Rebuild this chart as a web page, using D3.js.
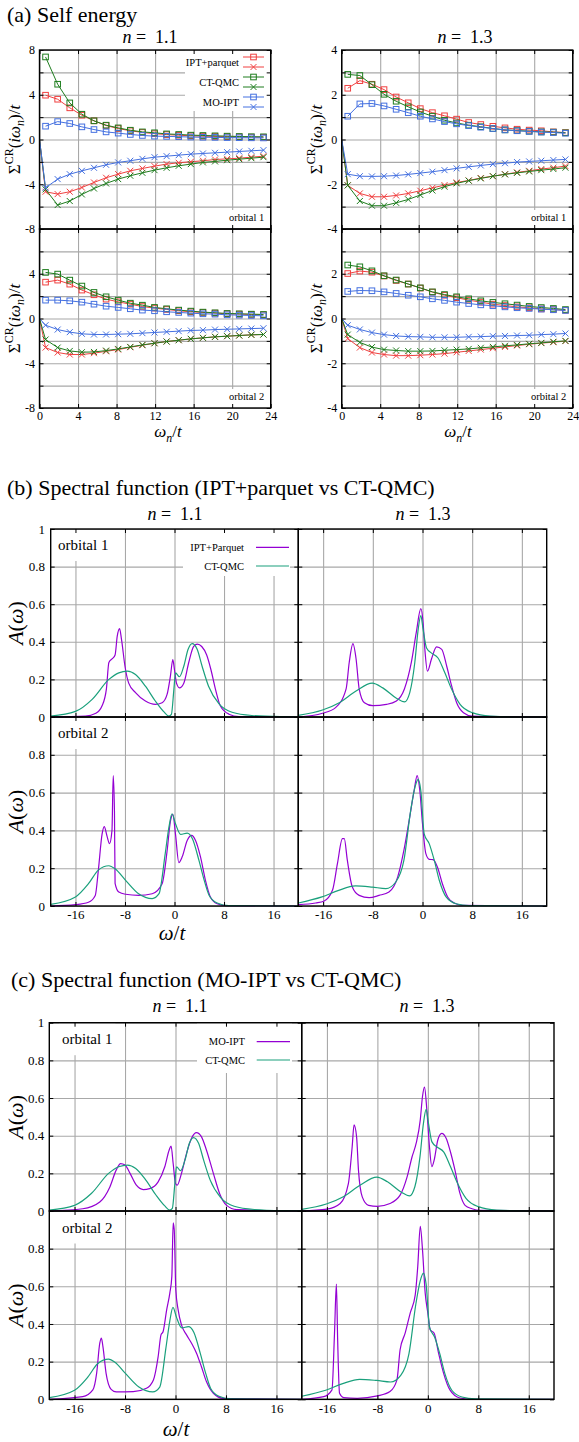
<!DOCTYPE html>
<html>
<head>
<meta charset="utf-8">
<script src="https://cdn.jsdelivr.net/npm/d3@7"></script>
<style>
  body { margin: 0; background: #fff; }
  svg, svg text { font-family: "Liberation Serif", "Times New Roman", serif; }
</style>
</head>
<body>
<svg id="fig" width="579" height="1442"></svg>
<script>
// ---------- data: self energy (Matsubara axis) ----------
const wn = [0.628, 1.885, 3.142, 4.398, 5.655, 6.912, 8.168, 9.425, 10.681, 11.938,
            13.195, 14.451, 15.708, 16.965, 18.221, 19.478, 20.735, 21.991, 23.248];

// n = 1.1, orbital 1
const iptRe_11_1 = [3.96, 3.6, 2.83, 2.17, 1.67, 1.25, 0.98, 0.78, 0.63, 0.52, 0.44, 0.38, 0.33, 0.3, 0.27, 0.25, 0.23, 0.21, 0.2];
const qmcRe_11_1 = [7.38, 4.94, 3.27, 2.26, 1.67, 1.28, 1.04, 0.83, 0.68, 0.6, 0.5, 0.45, 0.39, 0.36, 0.33, 0.3, 0.27, 0.25, 0.24];
const moRe_11_1  = [1.19, 1.6, 1.43, 1.13, 0.89, 0.68, 0.57, 0.45, 0.36, 0.3, 0.28, 0.25, 0.22, 0.2, 0.19, 0.17, 0.16, 0.15, 0.14];
const iptIm_11_1 = [-4.67, -4.88, -4.67, -4.29, -3.84, -3.42, -3.1, -2.8, -2.59, -2.38, -2.2, -2.08, -1.99, -1.9, -1.79, -1.73, -1.67, -1.58, -1.49];
const qmcIm_11_1 = [-4.46, -5.86, -5.5, -4.91, -4.38, -3.93, -3.54, -3.24, -2.98, -2.74, -2.53, -2.35, -2.2, -2.05, -1.96, -1.85, -1.76, -1.67, -1.58];
const moIm_11_1  = [-4.32, -3.54, -3.1, -2.8, -2.53, -2.26, -2.05, -1.9, -1.73, -1.58, -1.49, -1.4, -1.31, -1.25, -1.19, -1.13, -1.07, -1.01, -0.95];

// n = 1.3, orbital 1
const iptRe_13_1 = [2.29, 2.63, 2.47, 2.23, 1.9, 1.64, 1.38, 1.2, 1.06, 0.91, 0.76, 0.67, 0.59, 0.52, 0.46, 0.42, 0.39, 0.34, 0.31];
const qmcRe_13_1 = [2.91, 2.86, 2.45, 2.02, 1.71, 1.46, 1.23, 1.04, 0.86, 0.74, 0.64, 0.57, 0.49, 0.43, 0.4, 0.37, 0.34, 0.33, 0.3];
const moRe_13_1  = [1.04, 1.59, 1.61, 1.5, 1.35, 1.2, 1.04, 0.92, 0.8, 0.7, 0.62, 0.55, 0.49, 0.43, 0.39, 0.36, 0.33, 0.31, 0.28];
const iptIm_13_1 = [-2.05, -2.41, -2.56, -2.56, -2.5, -2.41, -2.29, -2.16, -2.04, -1.92, -1.83, -1.72, -1.64, -1.55, -1.47, -1.4, -1.32, -1.26, -1.19];
const qmcIm_13_1 = [-2.05, -2.75, -2.96, -2.96, -2.83, -2.68, -2.48, -2.28, -2.11, -1.96, -1.84, -1.74, -1.64, -1.56, -1.49, -1.43, -1.37, -1.32, -1.26];
const moIm_13_1  = [-1.55, -1.64, -1.65, -1.64, -1.61, -1.56, -1.5, -1.44, -1.37, -1.29, -1.22, -1.16, -1.1, -1.06, -1.01, -0.98, -0.95, -0.92, -0.89];

// n = 1.1, orbital 2
const iptRe_11_2 = [3.25, 3.43, 3.07, 2.54, 2.12, 1.73, 1.49, 1.28, 1.07, 0.93, 0.81, 0.69, 0.6, 0.54, 0.48, 0.42, 0.39, 0.36, 0.33];
const qmcRe_11_2 = [4.12, 3.97, 3.43, 2.9, 2.33, 1.94, 1.64, 1.37, 1.19, 0.99, 0.87, 0.75, 0.66, 0.57, 0.51, 0.45, 0.42, 0.39, 0.36];
const moRe_11_2  = [1.64, 1.64, 1.58, 1.46, 1.28, 1.1, 0.99, 0.87, 0.75, 0.69, 0.6, 0.54, 0.48, 0.42, 0.39, 0.33, 0.3, 0.27, 0.24];
const iptIm_11_2 = [-2.6, -3.04, -3.22, -3.22, -3.1, -2.93, -2.78, -2.57, -2.39, -2.21, -2.06, -1.94, -1.82, -1.73, -1.64, -1.58, -1.52, -1.46, -1.43];
const qmcIm_11_2 = [-1.88, -2.6, -2.9, -3.01, -2.99, -2.87, -2.72, -2.54, -2.36, -2.21, -2.06, -1.94, -1.82, -1.73, -1.64, -1.58, -1.52, -1.46, -1.43];
const moIm_11_2  = [-0.6, -0.99, -1.22, -1.37, -1.43, -1.43, -1.4, -1.37, -1.31, -1.25, -1.19, -1.13, -1.07, -1.04, -0.99, -0.96, -0.93, -0.9, -0.87];

// n = 1.3, orbital 2
const iptRe_13_2 = [2.01, 2.12, 2.07, 1.9, 1.7, 1.54, 1.36, 1.18, 1.04, 0.93, 0.82, 0.73, 0.64, 0.58, 0.52, 0.48, 0.43, 0.4, 0.37];
const qmcRe_13_2 = [2.39, 2.31, 2.13, 1.91, 1.72, 1.54, 1.37, 1.19, 1.07, 0.97, 0.88, 0.79, 0.72, 0.66, 0.6, 0.54, 0.49, 0.45, 0.4];
const moRe_13_2  = [1.21, 1.25, 1.24, 1.19, 1.12, 1.04, 0.97, 0.88, 0.81, 0.73, 0.67, 0.61, 0.57, 0.52, 0.48, 0.45, 0.42, 0.39, 0.36];
const iptIm_13_2 = [-0.9, -1.3, -1.52, -1.61, -1.66, -1.66, -1.64, -1.61, -1.57, -1.51, -1.45, -1.39, -1.33, -1.27, -1.21, -1.15, -1.1, -1.06, -1.01];
const qmcIm_13_2 = [-0.72, -1.07, -1.28, -1.39, -1.43, -1.46, -1.46, -1.45, -1.42, -1.39, -1.36, -1.31, -1.27, -1.22, -1.18, -1.13, -1.09, -1.04, -1.0];
const moIm_13_2  = [-0.3, -0.49, -0.63, -0.72, -0.78, -0.81, -0.82, -0.84, -0.84, -0.84, -0.82, -0.81, -0.79, -0.78, -0.76, -0.75, -0.72, -0.7, -0.67];

// ---------- data: spectral functions [omega, A] ----------
const qmc_11_1 = [[-20,0.005],[-16,0.03],[-13.3,0.094],[-10.6,0.2],[-9,0.235],[-7.6,0.244],[-6.3,0.226],[-4.7,0.164],[-3.1,0.085],[-1.7,0.027],[-0.9,0.005],[-0.5,0.014],[-0.1,0.147],[0.16,0.235],[0.8,0.214],[1.5,0.27],[2.2,0.36],[2.85,0.39],[3.66,0.36],[4.46,0.27],[5.5,0.164],[7.2,0.07],[9.3,0.025],[12.5,0.008],[17.4,0.002],[20,0.001]];
const qmc_13_1 = [[-20,0.009],[-16.1,0.037],[-13.4,0.076],[-10.7,0.138],[-8.1,0.18],[-6.4,0.155],[-4.2,0.1],[-2.9,0.08],[-2.05,0.13],[-1.24,0.29],[-0.7,0.465],[-0.27,0.54],[0.1,0.465],[0.65,0.367],[1.46,0.34],[2.5,0.314],[3.6,0.235],[4.7,0.147],[6.05,0.067],[8,0.023],[10.9,0.005],[16.3,0],[20,0]];
const qmc_11_2 = [[-20,0.009],[-16,0.048],[-13.9,0.118],[-12.3,0.19],[-10.6,0.213],[-9.6,0.197],[-7.9,0.136],[-5.8,0.065],[-3.6,0.039],[-2.5,0.065],[-1.5,0.277],[-0.9,0.417],[-0.4,0.488],[0.16,0.435],[1,0.379],[2.05,0.386],[2.9,0.356],[3.95,0.241],[4.8,0.136],[5.6,0.056],[6.9,0.016],[8.8,0.002],[20,0]];
const qmc_13_2 = [[-20,0.016],[-16.2,0.048],[-13.5,0.083],[-10.8,0.106],[-8.1,0.1],[-5.9,0.092],[-4.3,0.127],[-3,0.241],[-1.9,0.506],[-1.2,0.63],[-0.7,0.67],[-0.27,0.61],[0.27,0.382],[1.08,0.33],[1.9,0.241],[2.7,0.136],[3.8,0.048],[5.4,0.012],[7.5,0.002],[20,0]];

const ipt_11_1 = [[-20,0],[-14.4,0.005],[-12.7,0.02],[-11.7,0.06],[-11,0.15],[-10.6,0.29],[-10.05,0.31],[-9.6,0.33],[-9.25,0.43],[-8.87,0.47],[-8.55,0.41],[-8,0.27],[-7.4,0.18],[-6.3,0.13],[-4.7,0.085],[-3.1,0.067],[-2,0.076],[-1.2,0.12],[-0.65,0.22],[-0.27,0.305],[0,0.25],[0.32,0.18],[0.8,0.155],[1.5,0.18],[2.3,0.29],[3.1,0.376],[3.7,0.388],[4.4,0.375],[5.2,0.33],[5.9,0.25],[6.6,0.15],[7.4,0.06],[8.8,0.015],[10.4,0.002],[20,0]];
const ipt_13_1 = [[-20,0],[-16.1,0.02],[-14,0.05],[-12.3,0.15],[-11.8,0.29],[-11.2,0.39],[-10.7,0.31],[-10.2,0.15],[-9.35,0.076],[-8,0.06],[-5.8,0.067],[-4.2,0.085],[-2.9,0.15],[-1.8,0.29],[-1,0.45],[-0.27,0.576],[0.1,0.5],[0.38,0.36],[0.8,0.244],[1.46,0.31],[2.27,0.373],[3.1,0.36],[3.9,0.27],[4.7,0.164],[5.5,0.076],[6.6,0.023],[8,0.005],[20,0]];
const ipt_11_2 = [[-20,0],[-16,0.007],[-13.9,0.02],[-12.8,0.056],[-12.3,0.19],[-11.7,0.38],[-11.35,0.42],[-10.9,0.37],[-10.5,0.33],[-10.1,0.4],[-9.9,0.69],[-9.7,0.5],[-9.6,0.12],[-9,0.074],[-7.9,0.062],[-5.8,0.056],[-3.6,0.065],[-2,0.118],[-1.2,0.29],[-0.65,0.45],[-0.27,0.485],[0.16,0.38],[0.7,0.23],[1.24,0.26],[2.05,0.347],[2.76,0.374],[3.4,0.347],[4.2,0.26],[5,0.136],[5.8,0.048],[6.9,0.012],[8.3,0.002],[20,0]];
const ipt_13_2 = [[-20,0.007],[-17.2,0.016],[-15.9,0.025],[-14.5,0.083],[-13.7,0.224],[-12.9,0.356],[-12.6,0.356],[-12.1,0.241],[-11.3,0.1],[-10.2,0.056],[-8.6,0.044],[-7,0.056],[-5.4,0.074],[-4,0.153],[-3,0.294],[-2.15,0.453],[-1.35,0.61],[-0.86,0.69],[-0.43,0.61],[0,0.435],[0.54,0.277],[1.08,0.247],[1.7,0.245],[2.4,0.206],[3.2,0.118],[4.05,0.048],[5.1,0.016],[6.5,0.003],[20,0]];

const mo_11_1 = [[-20,0],[-14.7,0.012],[-12,0.048],[-10.4,0.128],[-9.4,0.217],[-8.7,0.252],[-8,0.244],[-7.2,0.2],[-6.2,0.137],[-5.1,0.114],[-4.1,0.119],[-2.75,0.155],[-1.7,0.235],[-1,0.324],[-0.7,0.345],[-0.37,0.252],[0,0.146],[0.26,0.137],[0.95,0.2],[1.75,0.306],[2.54,0.386],[3.33,0.416],[4.1,0.395],[4.9,0.324],[6,0.2],[7,0.092],[8.1,0.03],[9.7,0.007],[20,0]];
const mo_13_1 = [[-20,0],[-16,0.01],[-13.9,0.04],[-12.6,0.146],[-12,0.34],[-11.7,0.457],[-11.3,0.395],[-11,0.217],[-10.4,0.075],[-9.4,0.03],[-8,0.025],[-6,0.04],[-4.4,0.084],[-3.3,0.18],[-2.5,0.288],[-1.85,0.36],[-1.2,0.484],[-0.85,0.608],[-0.53,0.658],[-0.16,0.537],[0.26,0.34],[0.63,0.235],[1,0.27],[1.58,0.377],[2.2,0.412],[2.9,0.386],[3.5,0.324],[4.3,0.217],[5.1,0.092],[5.9,0.03],[7,0.012],[8.3,0.003],[20,0]];
const mo_11_2 = [[-20,0],[-14.7,0.014],[-13.1,0.05],[-12.5,0.138],[-12,0.298],[-11.75,0.325],[-11.5,0.28],[-11,0.138],[-10.2,0.053],[-9.4,0.039],[-6.7,0.041],[-4.6,0.059],[-3.5,0.103],[-2.75,0.227],[-2.3,0.342],[-1.96,0.36],[-1.4,0.475],[-0.9,0.564],[-0.58,0.653],[-0.37,0.937],[-0.2,0.9],[0.05,0.58],[0.42,0.475],[0.95,0.395],[1.75,0.342],[2.54,0.298],[3.33,0.245],[4.1,0.174],[4.9,0.094],[6,0.032],[7.6,0.005],[20,0]];
const mo_13_2 = [[-20,0],[-16.5,0.014],[-15.2,0.05],[-14.8,0.35],[-14.5,0.612],[-14.3,0.316],[-14,0.032],[-13.35,0.009],[-11.2,0.005],[-8,0.018],[-6,0.041],[-4.9,0.103],[-4.4,0.263],[-3.6,0.351],[-2.8,0.458],[-2,0.555],[-1.6,0.706],[-1.2,0.919],[-0.85,0.795],[-0.42,0.564],[0,0.458],[0.37,0.369],[1,0.351],[1.7,0.245],[2.5,0.138],[3.5,0.05],[5.1,0.007],[7,0],[20,0]];

// ---------- ticks ----------
const seXTicks = [0, 4, 8, 12, 16, 20, 24];
const seYGridL = [-8, -6, -4, -2, 0, 2, 4, 6, 8];
const seYGridR = [-4, -3, -2, -1, 0, 1, 2, 3, 4];
const seYLabTopL = [-8, -4, 0, 4, 8];
const seYLabBotL = [-8, -4, 0, 4];
const seYLabTopR = [-4, -2, 0, 2, 4];
const seYLabBotR = [-4, -2, 0, 2];
const spXTicks = [-16, -8, 0, 8, 16];
const spYGrid = [0, 0.2, 0.4, 0.6, 0.8, 1];
const spYLabTop = [0, 0.2, 0.4, 0.6, 0.8, 1];
const spYLabBot = [0, 0.2, 0.4, 0.6, 0.8];

// ---------- styles ----------
const serif = '"Liberation Serif", "Times New Roman", serif';
const colIPT = '#f04040', colQMC = '#1e7d1e', colMO = '#4470e0';
const colPurple = '#9400d3', colTeal = '#1aa07c';
const gridCol = '#a8a8a8';

const svg = d3.select('#fig').attr('font-family', serif);
const layers = {};
['grid', 'box', 'data', 'frame', 'text'].forEach(k => layers[k] = svg.append('g'));

function rich(sel, parts, size) {
  let shift = 0;
  parts.forEach(p => {
    const ts = sel.append('tspan').text(p.t);
    if (p.i) ts.attr('font-style', 'italic');
    let s = 0;
    if (p.sup) s = -0.4 * size;
    if (p.sub) s = 0.28 * size;
    if (s !== shift) ts.attr('dy', s - shift);
    shift = s;
    if (p.sup || p.sub) ts.attr('font-size', size * 0.7);
  });
  return sel;
}

function label(x, y, parts, size, anchor, rot) {
  const t = layers.text.append('text')
    .attr('font-family', serif)
    .attr('font-size', size)
    .attr('text-anchor', anchor || 'start');
  if (rot) t.attr('transform', `translate(${x},${y}) rotate(-90)`);
  else t.attr('x', x).attr('y', y);
  return rich(t, parts, size);
}

function panel(p) {
  const x = d3.scaleLinear().domain(p.xdom).range([p.x0, p.x1]);
  const y = d3.scaleLinear().domain(p.ydom).range([p.y1, p.y0]);
  const w = p.x1 - p.x0, h = p.y1 - p.y0;

  const gg = layers.grid.append('g');
  gg.append('g').attr('transform', `translate(0,${p.y1})`)
    .call(d3.axisBottom(x).tickValues(p.xgrid).tickSize(-h).tickFormat(''));
  gg.append('g').attr('transform', `translate(${p.x0},0)`)
    .call(d3.axisLeft(y).tickValues(p.ygrid).tickSize(-w).tickFormat(''));
  gg.selectAll('.domain').remove();
  gg.selectAll('line').attr('stroke', gridCol).attr('stroke-width', 1.1);

  const fg = layers.frame.append('g');
  const tk = 4;
  fg.append('g').attr('transform', `translate(0,${p.y1})`)
    .call(d3.axisBottom(x).tickValues(p.xgrid).tickSize(-tk).tickFormat(''));
  fg.append('g').attr('transform', `translate(0,${p.y0})`)
    .call(d3.axisTop(x).tickValues(p.xgrid).tickSize(-tk).tickFormat(''));
  fg.append('g').attr('transform', `translate(${p.x0},0)`)
    .call(d3.axisLeft(y).tickValues(p.ygrid).tickSize(-tk).tickFormat(''));
  fg.append('g').attr('transform', `translate(${p.x1},0)`)
    .call(d3.axisRight(y).tickValues(p.ygrid).tickSize(-tk).tickFormat(''));
  fg.selectAll('.domain').remove();
  fg.selectAll('line').attr('stroke', '#000').attr('stroke-width', 1);
  fg.append('rect')
    .attr('x', p.x0).attr('y', p.y0).attr('width', w).attr('height', h)
    .attr('fill', 'none').attr('stroke', '#000').attr('stroke-width', 1.4);

  if (p.ylab) {
    const a = layers.text.append('g').attr('transform', `translate(${p.x0},0)`)
      .call(d3.axisLeft(y).tickValues(p.ylab).tickSize(0).tickPadding(p.ypad).tickFormat(d => String(d)));
    a.select('.domain').remove();
    a.attr('font-family', serif).attr('font-size', p.fs);
    a.selectAll('text').attr('fill', '#000').attr('font-family', serif);
  }
  if (p.xlab) {
    const a = layers.text.append('g').attr('transform', `translate(0,${p.y1})`)
      .call(d3.axisBottom(x).tickValues(p.xlab).tickSize(0).tickPadding(p.xpad).tickFormat(d => String(d)));
    a.select('.domain').remove();
    a.attr('font-family', serif).attr('font-size', p.fs);
    a.selectAll('text').attr('fill', '#000').attr('font-family', serif);
  }
  return { x, y, p };
}

// white box behind a text label (opaque key / label)
function whiteBox(x0, y0, x1, y1) {
  layers.box.append('rect').attr('x', x0).attr('y', y0)
    .attr('width', x1 - x0).attr('height', y1 - y0).attr('fill', '#fff');
}

function marker(g, kind, cx, cy, color) {
  if (kind === 'sq') {
    g.append('rect').attr('x', cx - 2.8).attr('y', cy - 2.8).attr('width', 5.6).attr('height', 5.6)
      .attr('fill', 'none').attr('stroke', color).attr('stroke-width', 1);
  } else {
    g.append('path').attr('d', `M${cx - 3},${cy - 3}L${cx + 3},${cy + 3}M${cx - 3},${cy + 3}L${cx + 3},${cy - 3}`)
      .attr('stroke', color).attr('stroke-width', 1);
  }
}

function drawSE(P, series) {
  const line = d3.line().x(d => P.x(d[0])).y(d => P.y(d[1]));
  series.forEach(s => {
    const pts = s.vals.map((v, i) => [wn[i], v]);
    const lp = s.kind === 'x' ? [[0, 0]].concat(pts) : pts;
    layers.data.append('path').datum(lp).attr('d', line)
      .attr('fill', 'none').attr('stroke', s.color).attr('stroke-width', 1);
    const mg = layers.data.append('g');
    pts.forEach(d => marker(mg, s.kind, P.x(d[0]), P.y(d[1]), s.color));
  });
}

function drawSpec(P, curves) {
  const line = d3.line().x(d => P.x(d[0])).y(d => P.y(d[1])).curve(d3.curveMonotoneX);
  curves.forEach(c => {
    layers.data.append('path').datum(c.data).attr('d', line)
      .attr('fill', 'none').attr('stroke', c.color).attr('stroke-width', 1.2);
  });
}

function orbitalBoxLabel(x, y, text, size, boxTop, boxBottom, anchorEnd, boxRight) {
  const t = layers.text.append('text').attr('x', x).attr('y', y)
    .attr('font-family', serif)
    .attr('font-size', size).attr('text-anchor', anchorEnd ? 'end' : 'start').text(text);
  const len = t.node().getComputedTextLength();
  if (anchorEnd) whiteBox(x - len - 3, boxTop, boxRight, boxBottom);
  else whiteBox(x - 3, boxTop, x + len + 3, boxBottom);
}

// ================= (a) Self energy =================
label(7, 22, [{ t: '(a) Self energy' }], 22);
label(150, 43, [{ t: 'n', i: 1 }, { t: '\u00a0=\u00a0\u00a01.1' }], 18, 'middle');
label(465, 43, [{ t: 'n', i: 1 }, { t: '\u00a0=\u00a0\u00a01.3' }], 18, 'middle');

const aL = [39.5, 270.7], aR = [341.7, 572.7];
const aTop = [50, 229], aBot = [229, 408];

const seCfg = [
  { xs: aL, ys: aTop, yd: [-8, 8], yg: seYGridL, yl: seYLabTopL, xl: null,
    d: [iptRe_11_1, iptIm_11_1, qmcRe_11_1, qmcIm_11_1, moRe_11_1, moIm_11_1], orb: 'orbital 1' },
  { xs: aR, ys: aTop, yd: [-4, 4], yg: seYGridR, yl: seYLabTopR, xl: null,
    d: [iptRe_13_1, iptIm_13_1, qmcRe_13_1, qmcIm_13_1, moRe_13_1, moIm_13_1], orb: 'orbital 1' },
  { xs: aL, ys: aBot, yd: [-8, 8], yg: seYGridL, yl: seYLabBotL, xl: seXTicks,
    d: [iptRe_11_2, iptIm_11_2, qmcRe_11_2, qmcIm_11_2, moRe_11_2, moIm_11_2], orb: 'orbital 2' },
  { xs: aR, ys: aBot, yd: [-4, 4], yg: seYGridR, yl: seYLabBotR, xl: seXTicks,
    d: [iptRe_13_2, iptIm_13_2, qmcRe_13_2, qmcIm_13_2, moRe_13_2, moIm_13_2], orb: 'orbital 2' }
];

const seColors = [colIPT, colIPT, colQMC, colQMC, colMO, colMO];
const seKinds = ['sq', 'x', 'sq', 'x', 'sq', 'x'];

seCfg.forEach((c, k) => {
  const P = panel({ x0: c.xs[0], x1: c.xs[1], y0: c.ys[0], y1: c.ys[1], xdom: [0, 24], ydom: c.yd,
    xgrid: seXTicks, ygrid: c.yg, ylab: c.yl, xlab: c.xl, fs: 12, ypad: 4.5, xpad: 3 });
  drawSE(P, c.d.map((v, i) => ({ vals: v, color: seColors[i], kind: seKinds[i] })));
  orbitalBoxLabel(c.xs[1] - 6.5, c.ys[1] - 8, c.orb, 10.5, c.ys[1] - 19, c.ys[1], true, c.xs[1]);
  const yc = (c.ys[0] + c.ys[1]) / 2;
  label(c.xs[0] - 20, yc, [{ t: 'Σ' }, { t: 'CR', sup: 1 }, { t: '(' }, { t: 'iω', i: 1 }, { t: 'n', i: 1, sub: 1 }, { t: ')/' }, { t: 't', i: 1 }], 17, 'middle', true);
  if (k === 0) {
    // key
    whiteBox(185, 50.8, 270, 111);
    const names = ['IPT+parquet', '', 'CT-QMC', '', 'MO-IPT', ''];
    const kg = layers.text.append('g');
    names.forEach((nm, i) => {
      const yy = 57 + i * 10;
      kg.append('line').attr('x1', 243).attr('x2', 264).attr('y1', yy).attr('y2', yy)
        .attr('stroke', seColors[i]).attr('stroke-width', 1);
      marker(kg, seKinds[i], 253.5, yy, seColors[i]);
      if (nm) kg.append('text').attr('x', 239).attr('y', yy + 8.5).attr('text-anchor', 'end')
        .attr('font-family', serif).attr('font-size', 10.5).text(nm);
    });
  }
});
label(168, 437, [{ t: 'ω', i: 1 }, { t: 'n', i: 1, sub: 1 }, { t: '/' }, { t: 't', i: 1 }], 17, 'middle');
label(458, 437, [{ t: 'ω', i: 1 }, { t: 'n', i: 1, sub: 1 }, { t: '/' }, { t: 't', i: 1 }], 17, 'middle');

// ================= (b), (c) spectral functions =================
function spectralBlock(cfg) {
  label(cfg.titleX, cfg.titleY, [{ t: cfg.title }], 22);
  label(cfg.hx[0], cfg.hy, [{ t: 'n', i: 1 }, { t: '\u00a0=\u00a0\u00a01.1' }], 18, 'middle');
  label(cfg.hx[1], cfg.hy, [{ t: 'n', i: 1 }, { t: '\u00a0=\u00a0\u00a01.3' }], 18, 'middle');
  const rows = [[cfg.ys[0], cfg.ys[1]], [cfg.ys[1], cfg.ys[2]]];
  const cols = [[cfg.xs[0], cfg.xs[1]], [cfg.xs[1], cfg.xs[2]]];
  rows.forEach((r, ri) => {
    cols.forEach((c, ci) => {
      const P = panel({ x0: c[0], x1: c[1], y0: r[0], y1: r[1], xdom: [-20, 20], ydom: [0, 1],
        xgrid: spXTicks, ygrid: spYGrid,
        ylab: ci === 0 ? (ri === 0 ? spYLabTop : spYLabBot) : null,
        xlab: ri === 1 ? spXTicks : null, fs: 13, ypad: cfg.ypad, xpad: 4 });
      const idx = ri * 2 + ci;
      drawSpec(P, [
        { data: cfg.method[idx], color: colPurple },
        { data: cfg.qmc[idx], color: colTeal }
      ]);
    });
    orbitalBoxLabel(cfg.orbX, r[0] + cfg.orbDy, 'orbital ' + (ri + 1), 15, r[0] + 1, r[0] + cfg.orbDy + 11, false);
    label(23, (r[0] + r[1]) / 2, [{ t: 'A', i: 1 }, { t: '(' }, { t: 'ω', i: 1 }, { t: ')' }], 22, 'middle', true);
  });
  // key
  whiteBox(cfg.key.box[0], cfg.ys[0] + 0.8, cfg.key.box[1], cfg.key.box[2]);
  const kg = layers.text.append('g');
  cfg.key.names.forEach((nm, i) => {
    const yy = cfg.key.ys[i];
    const col = i === 0 ? colPurple : colTeal;
    kg.append('line').attr('x1', cfg.key.lx[0]).attr('x2', cfg.key.lx[1]).attr('y1', yy).attr('y2', yy)
      .attr('stroke', col).attr('stroke-width', 1.2);
    kg.append('text').attr('x', cfg.key.tx).attr('y', yy + 3.6).attr('text-anchor', 'end')
      .attr('font-family', serif).attr('font-size', 10.5).text(nm);
  });
  label(cfg.wx, cfg.wy, [{ t: 'ω', i: 1 }, { t: '/' }, { t: 't', i: 1 }], 21, 'middle');
}

spectralBlock({
  title: '(b) Spectral function (IPT+parquet vs CT-QMC)', titleX: 7, titleY: 495,
  hx: [175, 423], hy: 520,
  xs: [50.7, 298.3, 546.7], ys: [529, 717, 906], ypad: 5.7,
  method: [ipt_11_1, ipt_13_1, ipt_11_2, ipt_13_2],
  qmc: [qmc_11_1, qmc_13_1, qmc_11_2, qmc_13_2],
  orbX: 58, orbDy: 21,
  key: { names: ['IPT+Parquet', 'CT-QMC'], ys: [547.3, 566], lx: [256, 289], tx: 244, box: [183, 290, 576] },
  wx: 172, wy: 940
});

spectralBlock({
  title: '(c) Spectral function (MO-IPT vs CT-QMC)', titleX: 11, titleY: 987,
  hx: [180, 427], hy: 1012,
  xs: [49.3, 301.7, 554], ys: [1022.7, 1211, 1399.3], ypad: 5,
  method: [mo_11_1, mo_13_1, mo_11_2, mo_13_2],
  qmc: [qmc_11_1, qmc_13_1, qmc_11_2, qmc_13_2],
  orbX: 62, orbDy: 21.5,
  key: { names: ['MO-IPT', 'CT-QMC'], ys: [1041.7, 1060], lx: [256.7, 290], tx: 245, box: [197, 292, 1073] },
  wx: 176, wy: 1436
});
</script>
</body>
</html>
